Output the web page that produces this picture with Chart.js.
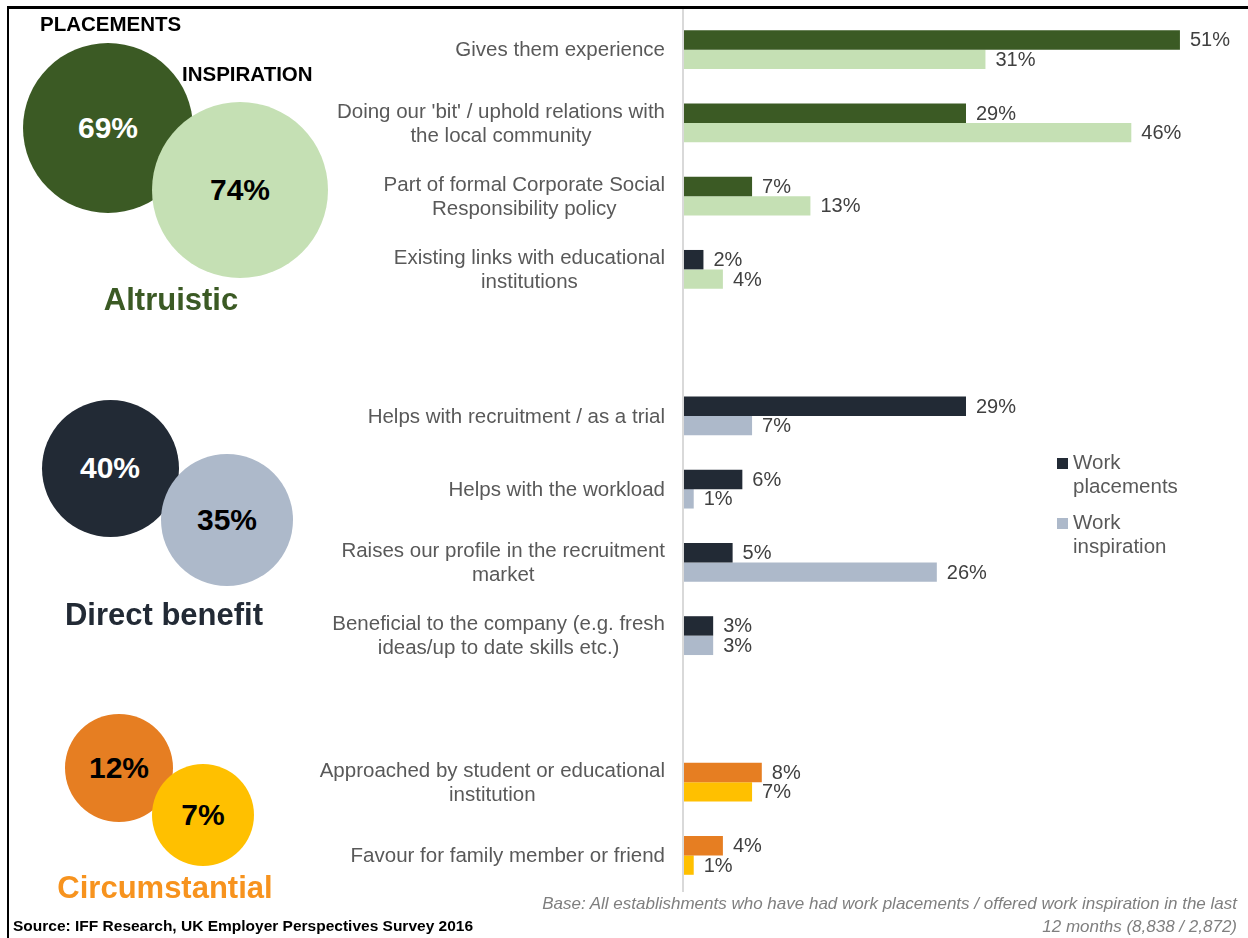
<!DOCTYPE html>
<html>
<head>
<meta charset="utf-8">
<script src="https://cdn.jsdelivr.net/npm/chart.js@4.4.0/dist/chart.umd.min.js"></script>
<style>
  html, body { margin: 0; padding: 0; background: #fff; }
  body { width: 1248px; height: 938px; position: relative; overflow: hidden; font-family: Arial, "Liberation Sans", sans-serif; }
  #chart { position: absolute; left: 0; top: 0; }
  .frame { position: absolute; left: 7px; top: 6px; right: 0; bottom: 0; border-top: 3px solid #000; border-left: 2px solid #000; }
  .bubble { position: absolute; border-radius: 50%; display: flex; align-items: center; justify-content: center; font-weight: bold; font-size: 30px; }
  .txt { position: absolute; white-space: nowrap; }
  .head { font-weight: bold; font-size: 20.5px; color: #000; transform: translateY(-50%); }
  .group { font-weight: bold; font-size: 31px; transform: translate(-50%, -50%); }
  .source { left: 13px; top: 926px; font-weight: bold; font-size: 15.5px; color: #000; transform: translateY(-50%); }
  .base { right: 11px; top: 892px; font-style: italic; font-size: 17px; line-height: 23px; color: #7f7f7f; text-align: right; }
</style>
</head>
<body>
<canvas id="chart" width="1248" height="938"></canvas>
<div class="frame"></div>
<div id="side"></div>
<div class="txt source">Source: IFF Research, UK Employer Perspectives Survey 2016</div>
<div class="txt base">Base: All establishments who have had work placements / offered work inspiration in the last<br>12 months (8,838 / 2,872)</div>
<script>
// ---- bar chart data ----
const categories = [
  ['Gives them experience'],
  ["Doing our 'bit' / uphold relations with", 'the local community'],
  ['Part of formal Corporate Social', 'Responsibility policy'],
  ['Existing links with educational', 'institutions'],
  [''],
  ['Helps with recruitment / as a trial'],
  ['Helps with the workload'],
  ['Raises our profile in the recruitment', 'market'],
  ['Beneficial to the company (e.g. fresh', 'ideas/up to date skills etc.)'],
  [''],
  ['Approached by student or educational', 'institution'],
  ['Favour for family member or friend']
];
const placements  = [51, 29, 7, 2, null, 29, 6, 5, 3, null, 8, 4];
const inspiration = [31, 46, 13, 4, null, 7, 1, 26, 3, null, 7, 1];

const GREEN = '#3B5A24', GREEN_L = '#C5E0B4';
const NAVY = '#222A35', NAVY_L = '#ADB9CA';
const ORANGE = '#E67E22', YELLOW = '#FFC000';

const placementColors  = [GREEN, GREEN, GREEN, NAVY, null, NAVY, NAVY, NAVY, NAVY, null, ORANGE, ORANGE];
const inspirationColors = [GREEN_L, GREEN_L, GREEN_L, GREEN_L, null, NAVY_L, NAVY_L, NAVY_L, NAVY_L, null, YELLOW, YELLOW];

const legendLabels = [['Work', 'placements'], ['Work', 'inspiration']];
const legendColors = [NAVY, NAVY_L];

// ---- summary bubbles ----
const groupNames = ['Altruistic', 'Direct benefit', 'Circumstantial'];
const groupPlacements = [69, 40, 12];
const groupInspiration = [74, 35, 7];

// bubble geometry / colours per group: [cx, cy, r, fill, text]
const bubbleStyle = [
  [[108, 128, 85, GREEN, '#fff'], [240, 190, 88, GREEN_L, '#000']],
  [[110, 468, 68.5, NAVY, '#fff'], [227, 520, 66, NAVY_L, '#000']],
  [[119, 768, 54, ORANGE, '#000'], [203, 815, 51, YELLOW, '#000']]
];
const groupTitleStyle = [[171, 300, GREEN], [164, 615, NAVY], [165, 888, '#F7931E']];

const side = document.getElementById('side');
function addDiv(cls, text, css) {
  const d = document.createElement('div');
  d.className = cls;
  d.textContent = text;
  Object.assign(d.style, css);
  side.appendChild(d);
}
groupNames.forEach((name, g) => {
  [groupPlacements[g], groupInspiration[g]].forEach((v, k) => {
    const [cx, cy, r, fill, col] = bubbleStyle[g][k];
    addDiv('bubble', v + '%', {
      left: (cx - r) + 'px', top: (cy - r) + 'px', width: 2 * r + 'px', height: 2 * r + 'px',
      background: fill, color: col
    });
  });
  const [tx, ty, tc] = groupTitleStyle[g];
  addDiv('txt group', name, { left: tx + 'px', top: ty + 'px', color: tc });
});
addDiv('txt head', 'PLACEMENTS', { left: '40px', top: '24px' });
addDiv('txt head', 'INSPIRATION', { left: '182px', top: '74px' });

// ---- drawing helpers for the chart ----
const FONT = 'Arial, "Liberation Sans", sans-serif';

const axisLine = {
  id: 'axisLine',
  beforeDatasetsDraw(chart) {
    const { ctx, chartArea, scales: { x } } = chart;
    const x0 = x.getPixelForValue(0);
    ctx.save();
    ctx.strokeStyle = '#D9D9D9';
    ctx.lineWidth = 2;
    ctx.beginPath();
    ctx.moveTo(x0 - 1, 9);
    ctx.lineTo(x0 - 1, chartArea.bottom);
    ctx.stroke();
    ctx.restore();
  }
};

const catLabels = {
  id: 'catLabels',
  afterDraw(chart) {
    const { ctx, chartArea, scales: { y } } = chart;
    ctx.save();
    ctx.font = '20.5px ' + FONT;
    ctx.fillStyle = '#595959';
    ctx.textAlign = 'center';
    ctx.textBaseline = 'middle';
    const right = chartArea.left - 19;
    const lh = 24;
    categories.forEach((lines, i) => {
      const w = Math.max(...lines.map(l => ctx.measureText(l).width));
      const cx = right - w / 2;
      const cy = y.getPixelForValue(i) + 1;
      lines.forEach((l, j) => {
        ctx.fillText(l, cx, cy + (j - (lines.length - 1) / 2) * lh);
      });
    });
    ctx.restore();
  }
};

const valueLabels = {
  id: 'valueLabels',
  afterDatasetsDraw(chart) {
    const { ctx } = chart;
    ctx.save();
    ctx.font = '20px ' + FONT;
    ctx.fillStyle = '#404040';
    ctx.textAlign = 'left';
    ctx.textBaseline = 'middle';
    chart.data.datasets.forEach((ds, di) => {
      chart.getDatasetMeta(di).data.forEach((bar, i) => {
        const v = ds.data[i];
        if (v == null) return;
        ctx.fillText(v + '%', bar.x + 10, bar.y + 1);
      });
    });
    ctx.restore();
  }
};

const sideLegend = {
  id: 'sideLegend',
  afterDraw(chart) {
    const { ctx } = chart;
    ctx.save();
    ctx.font = '20.5px ' + FONT;
    ctx.textBaseline = 'middle';
    ctx.textAlign = 'left';
    legendLabels.forEach((lines, i) => {
      const top = 463 + i * 60;
      ctx.fillStyle = legendColors[i];
      ctx.fillRect(1057, top - 5, 11, 11);
      ctx.fillStyle = '#595959';
      lines.forEach((l, j) => ctx.fillText(l, 1073, top + j * 24));
    });
    ctx.restore();
  }
};

new Chart(document.getElementById('chart'), {
  type: 'bar',
  data: {
    labels: categories.map(c => c.join(' ')),
    datasets: [
      { label: 'Work placements', data: placements, backgroundColor: placementColors,
        categoryPercentage: 0.53, barPercentage: 1.0 },
      { label: 'Work inspiration', data: inspiration, backgroundColor: inspirationColors,
        categoryPercentage: 0.53, barPercentage: 1.0 }
    ]
  },
  options: {
    indexAxis: 'y',
    responsive: false,
    animation: false,
    devicePixelRatio: 1,
    layout: { padding: { left: 684, top: 13, right: 0, bottom: 46 } },
    scales: {
      x: { display: false, min: 0, max: 58 },
      y: { display: false }
    },
    plugins: {
      legend: { display: false },
      tooltip: { enabled: false }
    }
  },
  plugins: [axisLine, catLabels, valueLabels, sideLegend]
});
</script>
</body>
</html>
